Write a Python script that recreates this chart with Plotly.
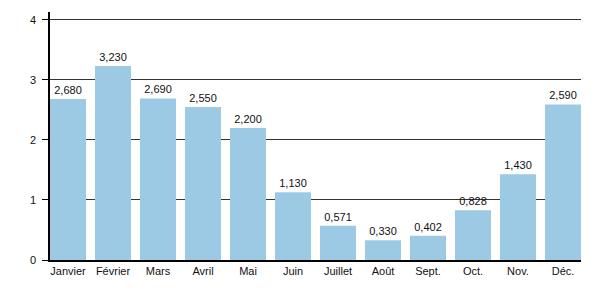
import plotly.graph_objects as go

months = ["Janvier", "Février", "Mars", "Avril", "Mai", "Juin", "Juillet", "Août", "Sept.", "Oct.", "Nov.", "Déc."]
values = [2.680, 3.230, 2.690, 2.550, 2.200, 1.130, 0.571, 0.330, 0.402, 0.828, 1.430, 2.590]
yticks = [0, 1, 2, 3, 4]

fig = go.Figure(go.Bar(
    x=list(range(len(months))), y=values,
    marker=dict(color="#9ccae4", line=dict(width=0)),
    texttemplate="%{y:.3f}", textposition="outside",
    textfont=dict(size=11, color="#111", family="Liberation Sans, Arial"),
    cliponaxis=False, width=0.8,
))
fig.update_layout(
    width=600, height=300,
    margin=dict(l=50, r=19, t=12, b=40),
    paper_bgcolor="white", plot_bgcolor="white",
    separators=",.",
    showlegend=False,
    font=dict(family="Liberation Sans, Arial", size=11, color="#111"),
    xaxis=dict(range=[-0.4, 11.4], tickmode="array", tickvals=list(range(len(months))),
               ticktext=months, showgrid=False, zeroline=False,
               showline=True, linecolor="#000", linewidth=1.5, ticks="", fixedrange=True),
    yaxis=dict(range=[0, 4.13], tickvals=yticks, showgrid=True, gridcolor="#333", gridwidth=1,
               zeroline=False, showline=True, linecolor="#000", linewidth=1.5,
               ticks="outside", ticklen=6, tickcolor="#000", ticklabelstandoff=4),
)
fig.write_html("out.html", config={"displayModeBar": False})
